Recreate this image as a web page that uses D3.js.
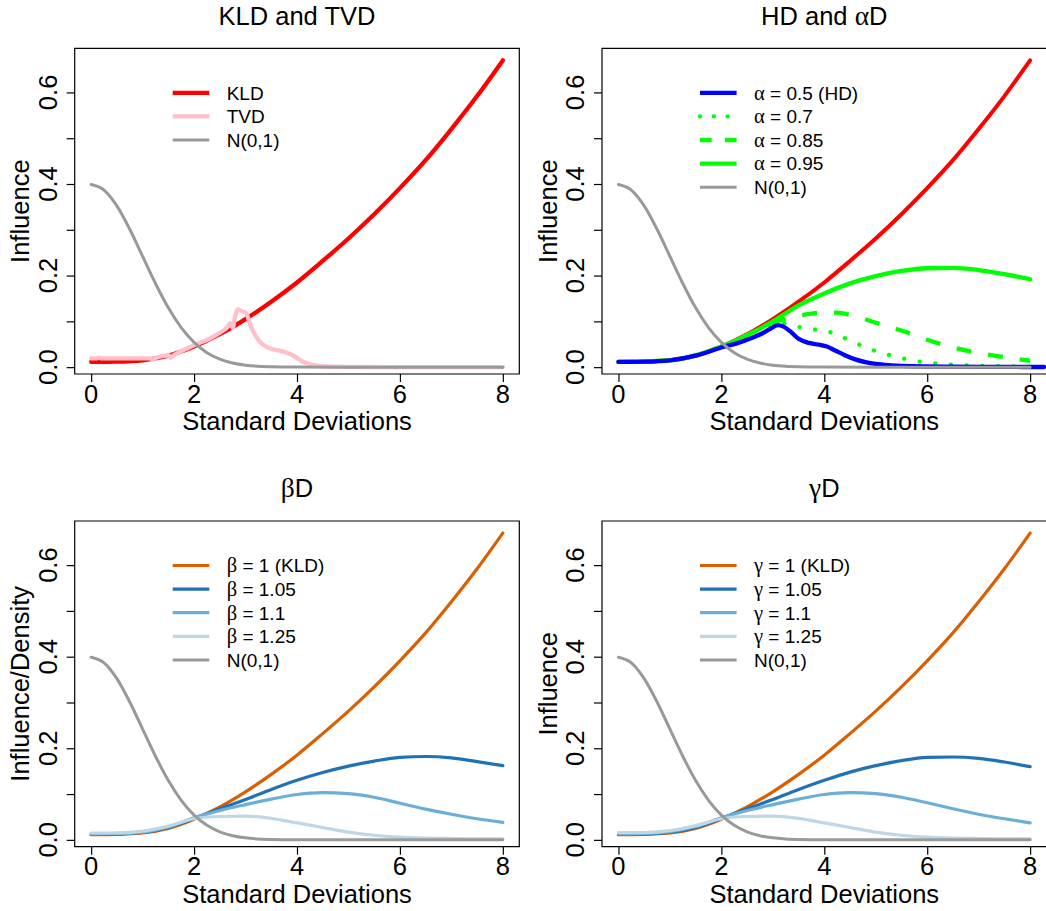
<!DOCTYPE html>
<html>
<head>
<meta charset="utf-8">
<script src="https://cdn.jsdelivr.net/npm/d3@7"></script>
<style>
  html, body { margin: 0; padding: 0; background: #fff; }
  svg { display: block; font-family: "Liberation Sans", Arial, Helvetica, sans-serif; }
</style>
</head>
<body>
<svg id="chart" width="1046" height="911"></svg>
<script>
// ---------------- DATA ----------------
const xTicks = [0, 2, 4, 6, 8];
const yTicks = [0, 0.1, 0.2, 0.3, 0.4, 0.5, 0.6];
const yTickLabels = ["0.0", "", "0.2", "", "0.4", "", "0.6"];

// KLD influence (also beta = 1 / gamma = 1)
const kldX = [0, 0.5, 1, 1.5, 2, 2.5, 3, 3.5, 4, 4.5, 5, 5.5, 6, 6.5, 7, 7.5, 8];
const kldY = [0.0114, 0.012, 0.015, 0.025, 0.045, 0.072, 0.105, 0.143, 0.185, 0.232, 0.281, 0.334, 0.391, 0.452, 0.520, 0.592, 0.670];

// N(0,1) density
const normX = [0, 0.25, 0.5, 0.75, 1, 1.25, 1.5, 1.75, 2, 2.25, 2.5, 2.75, 3, 3.25, 3.5, 3.75, 4, 5, 6, 7, 8];
const normY = [0.3989, 0.3867, 0.3521, 0.3011, 0.2420, 0.1826, 0.1295, 0.0863, 0.0540, 0.0317, 0.0175, 0.0091, 0.0044, 0.0020, 0.0009, 0.0004, 0.0001, 0, 0, 0, 0];

// TVD influence
const tvdX = [0, 0.1, 0.15, 0.2, 0.5, 1.0, 1.15, 1.2, 1.25, 1.5, 1.55, 1.6, 1.65, 2.0, 2.3, 2.5, 2.65, 2.7, 2.75, 2.8, 2.85, 2.9, 2.95, 3.0, 3.05, 3.1, 3.2, 3.3, 3.4, 3.5, 3.7, 3.9, 4.1, 4.3, 4.5, 4.8, 5.2, 6, 7, 8];
const tvdY = [0.019, 0.019, 0.021, 0.019, 0.019, 0.019, 0.019, 0.016, 0.020, 0.026, 0.021, 0.026, 0.029, 0.048, 0.062, 0.075, 0.088, 0.096, 0.086, 0.112, 0.126, 0.124, 0.121, 0.120, 0.108, 0.090, 0.068, 0.053, 0.045, 0.040, 0.035, 0.027, 0.013, 0.005, 0.002, 0.001, 0.0005, 0.0002, 0.0001, 0];

// alpha-divergences
const hdX = [0, 0.5, 1, 1.5, 2, 2.3, 2.6, 2.8, 3.0, 3.1, 3.2, 3.35, 3.5, 3.7, 3.9, 4.05, 4.2, 4.4, 4.6, 4.8, 5.0, 5.3, 5.7, 6.5, 7.5, 8.27];
const hdY = [0.0114, 0.012, 0.015, 0.025, 0.043, 0.052, 0.064, 0.074, 0.087, 0.092, 0.089, 0.077, 0.062, 0.053, 0.049, 0.045, 0.037, 0.026, 0.017, 0.011, 0.007, 0.004, 0.002, 0.001, 0.0005, 0.0003];
const a07X = [0, 1, 2, 2.5, 2.8, 3.0, 3.15, 3.3, 3.5, 3.75, 4.0, 4.25, 4.5, 4.75, 5, 5.25, 5.5, 5.75, 6, 6.5, 7, 7.5, 8];
const a07Y = [0.0114, 0.015, 0.045, 0.070, 0.085, 0.094, 0.097, 0.094, 0.088, 0.083, 0.080, 0.071, 0.058, 0.046, 0.035, 0.027, 0.020, 0.014, 0.010, 0.005, 0.003, 0.002, 0.001];
const a085X = [0, 1, 2, 2.5, 3, 3.25, 3.5, 3.75, 4, 4.25, 4.5, 4.75, 5, 5.5, 6, 6.5, 7, 7.5, 8];
const a085Y = [0.0114, 0.015, 0.045, 0.070, 0.097, 0.106, 0.112, 0.117, 0.119, 0.119, 0.114, 0.106, 0.097, 0.080, 0.060, 0.043, 0.031, 0.022, 0.014];
const a095X = [0, 1, 2, 2.5, 3, 3.5, 4, 4.5, 5, 5.5, 6, 6.5, 7, 7.5, 8];
const a095Y = [0.0114, 0.015, 0.045, 0.070, 0.100, 0.135, 0.161, 0.183, 0.199, 0.210, 0.216, 0.217, 0.212, 0.203, 0.192];

// beta-divergences
const bX = [0, 0.5, 1, 1.5, 2, 2.5, 3, 3.5, 4, 4.5, 5, 5.5, 6, 6.5, 7, 7.5, 8];
const b105Y = [0.012, 0.013, 0.016, 0.027, 0.047, 0.068, 0.088, 0.110, 0.130, 0.147, 0.161, 0.172, 0.180, 0.182, 0.179, 0.171, 0.162];
const b11Y = [0.013, 0.014, 0.017, 0.028, 0.048, 0.064, 0.077, 0.089, 0.099, 0.103, 0.101, 0.093, 0.080, 0.067, 0.056, 0.046, 0.038];
const b125Y = [0.015, 0.015, 0.019, 0.030, 0.046, 0.051, 0.052, 0.047, 0.037, 0.027, 0.017, 0.010, 0.006, 0.004, 0.003, 0.002, 0.002];

// gamma-divergences
const gX = [0, 0.5, 1, 1.5, 2, 2.5, 3, 3.5, 4, 4.5, 5, 5.5, 6, 6.5, 7, 7.5, 8];
const g105Y = [0.012, 0.013, 0.016, 0.027, 0.047, 0.068, 0.088, 0.110, 0.130, 0.148, 0.162, 0.173, 0.180, 0.181, 0.178, 0.170, 0.160];
const g11Y = [0.013, 0.014, 0.018, 0.029, 0.048, 0.064, 0.077, 0.089, 0.099, 0.103, 0.101, 0.093, 0.081, 0.068, 0.056, 0.046, 0.037];
const g125Y = [0.016, 0.016, 0.020, 0.031, 0.046, 0.051, 0.052, 0.047, 0.037, 0.027, 0.017, 0.010, 0.006, 0.004, 0.003, 0.002, 0.002];

// ---------------- DRAWING ----------------
const svg = d3.select("#chart");
const FONT = 25.5, LFONT = 19;
const W = 444.6, H = 325.7;
const SVG_W = 1046;
const zip = (xs, ys) => xs.map((x, i) => [x, ys[i]]);
const GREEK = /[αβγ]/;

// write text, rendering greek letters in a serif "symbol" style
function richText(sel, str, size) {
  const parts = str.split(/([αβγ])/).filter(p => p !== "");
  parts.forEach(p => {
    const t = sel.append("tspan").text(p);
    if (GREEK.test(p)) t.attr("font-family", "'Liberation Serif', 'DejaVu Serif', serif").attr("font-size", size * 1.08);
  });
  return sel;
}

function panel(cfg) {
  const { left, top, title, ylabel, series, legend, titleY } = cfg;
  const x = d3.scaleLinear().domain([-0.32, 8.32]).range([left, left + W]);
  const yMin = d3.min(kldY), yMax = d3.max(kldY), r = yMax - yMin;
  const y = d3.scaleLinear().domain([yMin - 0.04 * r, yMax + 0.04 * r]).range([top + H, top]);
  const g = svg.append("g");

  const clipId = "clip" + Math.round(left) + "_" + Math.round(top);
  g.append("clipPath").attr("id", clipId).append("rect")
    .attr("x", left).attr("y", top).attr("width", W).attr("height", H);

  const line = d3.line().x(d => x(d[0])).y(d => y(d[1])).curve(d3.curveMonotoneX);
  const plot = g.append("g").attr("clip-path", `url(#${clipId})`);
  series.forEach(s => {
    plot.append("path")
      .attr("d", line(zip(s.x, s.y)))
      .attr("fill", "none")
      .attr("stroke", s.color)
      .attr("stroke-width", s.width)
      .attr("stroke-linecap", s.dash === "dot" ? "round" : (s.dash ? "butt" : "round"))
      .attr("stroke-linejoin", "round")
      .attr("stroke-dasharray", s.dash === "dot" ? "0.1,15.6" : (s.dash ? "15,17" : null));
  });

  // box (right side falls outside the canvas for the right-hand panels)
  const R = left + W, B = top + H;
  const boxPath = R < SVG_W - 1
    ? `M${left},${top}H${R}V${B}H${left}Z`
    : `M${R + 2},${top}H${left}V${B}H${R + 2}`;
  g.append("path").attr("d", boxPath)
    .attr("fill", "none").attr("stroke", "#000").attr("stroke-width", 1.2);

  // x axis
  const xa = g.append("g").attr("transform", `translate(0,${B})`)
    .call(d3.axisBottom(x).tickValues(xTicks).tickSize(8));
  xa.select(".domain").remove();
  xa.selectAll("line").attr("stroke", "#000").attr("stroke-width", 1.2);
  xa.selectAll("text").remove();
  xTicks.forEach(t => {
    g.append("text").attr("x", x(t)).attr("y", B + 28.5)
      .attr("text-anchor", "middle").attr("font-size", FONT).attr("fill", "#000").text(t);
  });

  // y axis
  const ya = g.append("g").attr("transform", `translate(${left},0)`)
    .call(d3.axisLeft(y).tickValues(yTicks).tickSize(8));
  ya.select(".domain").remove();
  ya.selectAll("line").attr("stroke", "#000").attr("stroke-width", 1.2);
  ya.selectAll("text").remove();
  yTicks.forEach((t, i) => {
    if (!yTickLabels[i]) return;
    g.append("text").attr("transform", `translate(${left - 18},${y(t)}) rotate(-90)`)
      .attr("text-anchor", "middle").attr("font-size", FONT).attr("fill", "#000").text(yTickLabels[i]);
  });

  // labels
  g.append("text").attr("x", left + W / 2).attr("y", B + 56)
    .attr("text-anchor", "middle").attr("font-size", FONT).text("Standard Deviations");
  g.append("text").attr("transform", `translate(${left - 45.3},${top + H / 2}) rotate(-90)`)
    .attr("text-anchor", "middle").attr("font-size", FONT).text(ylabel);
  richText(g.append("text").attr("x", left + W / 2).attr("y", titleY)
    .attr("text-anchor", "middle").attr("font-size", FONT), title, FONT);

  // legend
  legend.forEach((l, i) => {
    const ry = top + 44.5 + i * 23.6;
    g.append("line").attr("x1", left + 98).attr("x2", left + 134.6)
      .attr("y1", ry).attr("y2", ry)
      .attr("stroke", l.color).attr("stroke-width", l.width)
      .attr("stroke-linecap", l.dash === "dot" ? "round" : "butt")
      .attr("stroke-dasharray", l.dash === "dot" ? "0.1,13.7" : (l.dash ? "11.7,13.3" : null));
    richText(g.append("text").attr("x", left + 152).attr("y", ry + 6.8)
      .attr("font-size", LFONT).attr("fill", "#000"), l.label, LFONT);
  });
}

const GRAY = "#999999";
const C105 = "#2171B5", C11 = "#6BAED6", C125 = "#BDD7E7", ORANGE = "#D95F02";

panel({
  left: 74.7, top: 48.3, titleY: 25, title: "KLD and TVD", ylabel: "Influence",
  series: [
    { x: kldX, y: kldY, color: "#FF0000", width: 4.3 },
    { x: tvdX, y: tvdY, color: "#FFC0CB", width: 4.3 },
    { x: normX, y: normY, color: GRAY, width: 3 }
  ],
  legend: [
    { label: "KLD", color: "#FF0000", width: 4.3 },
    { label: "TVD", color: "#FFC0CB", width: 4.3 },
    { label: "N(0,1)", color: GRAY, width: 3 }
  ]
});

panel({
  left: 602, top: 48.3, titleY: 25, title: "HD and αD", ylabel: "Influence",
  series: [
    { x: kldX, y: kldY, color: "#FF0000", width: 4 },
    { x: a07X, y: a07Y, color: "#00FF00", width: 4.3, dash: "dot" },
    { x: a085X, y: a085Y, color: "#00FF00", width: 4.3, dash: "dash" },
    { x: a095X, y: a095Y, color: "#00FF00", width: 4.3 },
    { x: hdX, y: hdY, color: "#0000FF", width: 4.3 },
    { x: normX, y: normY, color: GRAY, width: 3 }
  ],
  legend: [
    { label: "α = 0.5 (HD)", color: "#0000FF", width: 4.3 },
    { label: "α = 0.7", color: "#00FF00", width: 4.3, dash: "dot" },
    { label: "α = 0.85", color: "#00FF00", width: 4.3, dash: "dash" },
    { label: "α = 0.95", color: "#00FF00", width: 4.3 },
    { label: "N(0,1)", color: GRAY, width: 3 }
  ]
});

panel({
  left: 74.7, top: 521, titleY: 497, title: "βD", ylabel: "Influence/Density",
  series: [
    { x: kldX, y: kldY, color: ORANGE, width: 3.2 },
    { x: bX, y: b105Y, color: C105, width: 3.2 },
    { x: bX, y: b11Y, color: C11, width: 3.2 },
    { x: bX, y: b125Y, color: C125, width: 3.2 },
    { x: normX, y: normY, color: GRAY, width: 3 }
  ],
  legend: [
    { label: "β = 1 (KLD)", color: ORANGE, width: 3.2 },
    { label: "β = 1.05", color: C105, width: 3.2 },
    { label: "β = 1.1", color: C11, width: 3.2 },
    { label: "β = 1.25", color: C125, width: 3.2 },
    { label: "N(0,1)", color: GRAY, width: 3 }
  ]
});

panel({
  left: 602, top: 521, titleY: 497, title: "γD", ylabel: "Influence",
  series: [
    { x: kldX, y: kldY, color: ORANGE, width: 3.2 },
    { x: gX, y: g105Y, color: C105, width: 3.2 },
    { x: gX, y: g11Y, color: C11, width: 3.2 },
    { x: gX, y: g125Y, color: C125, width: 3.2 },
    { x: normX, y: normY, color: GRAY, width: 3 }
  ],
  legend: [
    { label: "γ = 1 (KLD)", color: ORANGE, width: 3.2 },
    { label: "γ = 1.05", color: C105, width: 3.2 },
    { label: "γ = 1.1", color: C11, width: 3.2 },
    { label: "γ = 1.25", color: C125, width: 3.2 },
    { label: "N(0,1)", color: GRAY, width: 3 }
  ]
});
</script>
</body>
</html>
